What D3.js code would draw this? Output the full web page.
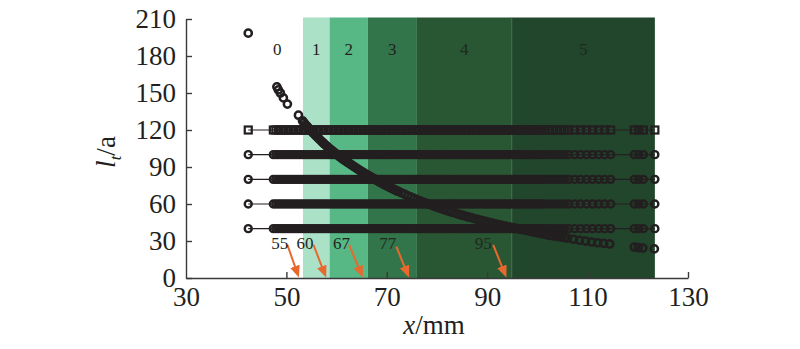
<!DOCTYPE html>
<html><head><meta charset="utf-8">
<script src="https://cdn.jsdelivr.net/npm/d3@7"></script>
<style>body{margin:0;background:#fff}svg{display:block}text{font-family:"Liberation Serif","Times New Roman",serif}</style>
</head><body>
<svg id="chart" width="800" height="349"></svg>
<script>
// ---------- data ----------
const xTicks = [30, 50, 70, 90, 110, 130];
const yTicks = [0, 30, 60, 90, 120, 150, 180, 210];

// zone boundaries along x (mm) and zone labels
const zoneEdges = [43.1, 53.3, 58.6, 66.2, 76.0, 94.9, 123.4];
const zoneLabels = ["0", "1", "2", "3", "4", "5"];

// annotated boundary values
const arrowLabels = ["55", "60", "67", "77", "95"];
const arrowLabelX = [48.7, 53.7, 61.0, 70.2, 89.2];
const arrowFromX = [50.2, 55.4, 62.5, 71.9, 91.2];
const arrowToX = [52.3, 57.7, 65.0, 74.2, 93.6];
const arrowFromY = [26.8, 26.8, 26.8, 25.4, 26.8];

// horizontal series (constant l_t levels)
const rowLevels = [120, 100, 80, 60, 40];
const rowShapes = ["square", "circle", "circle", "circle", "circle"];
const rowX = [42.4,
  47.4, 47.9, 48.4, 48.9, 49.4, 49.9, 50.4, 50.9, 51.4, 51.9, 52.4, 52.9, 53.4, 53.9, 54.4, 54.9,
  55.4, 55.9, 56.4, 56.9, 57.4, 57.9, 58.4, 58.9, 59.4, 59.9, 60.4, 60.9, 61.4, 61.9, 62.4, 62.9,
  63.4, 63.9, 64.4, 64.9, 65.4, 65.9, 66.4, 66.9, 67.4, 67.9, 68.4, 68.9, 69.4, 69.9, 70.4, 70.9,
  71.4, 71.9, 72.4, 72.9, 73.4, 73.9, 74.4, 74.9, 75.4, 75.9, 76.4, 76.9, 77.4, 77.9, 78.4, 78.9,
  79.4, 79.9, 80.4, 80.9, 81.4, 81.9, 82.4, 82.9, 83.4, 83.9, 84.4, 84.9, 85.4, 85.9, 86.4, 86.9,
  87.4, 87.9, 88.4, 88.9, 89.4, 89.9, 90.4, 90.9, 91.4, 91.9, 92.4, 92.9, 93.4, 93.9, 94.4, 94.9,
  95.4, 95.9, 96.4, 96.9, 97.4, 97.9, 98.4, 98.9, 99.4, 99.9, 100.4, 100.9, 101.4,
  102.2, 103.0, 103.8, 104.6, 105.4, 106.2, 107.4, 108.6, 109.8, 111.0, 112.2, 113.4, 114.6,
  119.3, 120.2, 121.1, 123.4];

// decreasing series
const curveX = [42.4, 48.1, 48.4, 48.8, 49.4, 50.2, 52.4,
  53.2, 53.5, 53.8, 54.1, 54.4, 54.7, 55.0, 55.3, 55.6, 55.9, 56.2, 56.5, 56.8, 57.1, 57.4, 57.7,
  58.0, 58.3, 58.6, 58.9, 59.2, 59.5, 59.8, 60.1, 60.4, 60.7, 61.0, 61.3, 61.6, 61.9, 62.2, 62.5,
  62.8, 63.1, 63.4, 63.7, 64.0, 64.3, 64.6, 64.9, 65.2, 65.5, 65.8, 66.1, 66.4, 66.7, 67.0, 67.3,
  67.6, 67.9, 68.2, 68.5, 68.8, 69.1, 69.4, 69.7, 70.0, 70.3, 70.6, 70.9, 71.2, 71.5, 71.8, 72.1,
  72.4, 73.0, 73.6, 74.2, 74.8, 75.4, 76.0, 76.6, 77.2, 77.8, 78.4, 79.0, 79.6, 80.2, 80.8, 81.4,
  82.0, 82.6, 83.2, 83.8, 84.4, 85.0, 85.6, 86.2, 86.8, 87.4, 88.0, 88.6, 89.2, 89.8, 90.4, 91.0,
  91.6, 92.2, 92.8, 93.4, 94.0, 94.6, 95.2, 95.8, 96.4, 97.0, 97.6, 98.2, 98.8, 99.4, 100.0, 100.6,
  101.2, 101.8, 102.4, 103.0, 103.6, 104.2, 104.8, 105.4, 106.0,
  107.2, 108.4, 109.6, 110.8, 112.0, 113.2, 114.4, 119.3, 120.1, 121.0, 123.3];
const curveL = [198.5, 155, 152.5, 150, 146, 141, 132,
  127.5, 126.0, 124.4, 123.0, 121.6, 120.3, 119.0, 117.7, 116.5, 115.2, 114.0, 112.8, 111.6, 110.4, 109.3, 108.1,
  107.0, 105.9, 104.9, 103.9, 102.9, 101.9, 101.0, 100.0, 99.1, 98.1, 97.2, 96.3, 95.5, 94.6, 93.8, 92.9,
  92.1, 91.3, 90.5, 89.7, 88.9, 88.1, 87.3, 86.5, 85.8, 85.0, 84.3, 83.6, 82.9, 82.2, 81.5, 80.8,
  80.1, 79.4, 78.7, 78.0, 77.4, 76.7, 76.0, 75.4, 74.8, 74.1, 73.5, 72.9, 72.3, 71.7, 71.1, 70.5,
  70.0, 68.9, 67.8, 66.7, 65.6, 64.6, 63.6, 62.6, 61.6, 60.7, 59.8, 58.9, 58.0, 57.2, 56.3, 55.5,
  54.7, 53.9, 53.1, 52.4, 51.6, 50.9, 50.2, 49.5, 48.9, 48.2, 47.6, 47.0, 46.3, 45.7, 45.1, 44.5,
  43.9, 43.3, 42.8, 42.3, 41.7, 41.2, 40.7, 40.2, 39.7, 39.2, 38.7, 38.2, 37.7, 37.2, 36.7, 36.2,
  35.7, 35.2, 34.7, 34.3, 33.9, 33.5, 33.1, 32.7, 32.3,
  31.4, 30.6, 29.9, 29.2, 28.6, 28.1, 27.6, 25.1, 24.7, 24.3, 23.6];

// ---------- styles ----------
const zoneColors = ["none", "#abe1c6", "#57b885", "#33754b", "#295633", "#22462b"];
const ink = "#231f20";
const orange = "#e8692f";

// ---------- drawing ----------
const svg = d3.select("#chart");
const x = d3.scaleLinear().domain([30, 130]).range([186, 688]);
const y = d3.scaleLinear().domain([0, 210]).range([278, 19]);

// zones
const zones = zoneLabels.map((lab, i) => ({lab, x0: zoneEdges[i], x1: zoneEdges[i + 1], c: zoneColors[i]}));
svg.append("g").selectAll("rect").data(zones.filter(z => z.c !== "none")).join("rect")
  .attr("x", d => x(d.x0)).attr("width", d => x(d.x1) - x(d.x0))
  .attr("y", y(210) - 1.5).attr("height", y(0) - y(210) + 1.5)
  .attr("fill", d => d.c);
svg.append("line").attr("x1", x(zoneEdges[5])).attr("x2", x(zoneEdges[5]))
  .attr("y1", y(210) - 1.5).attr("y2", y(0)).attr("stroke", "#3e6c48").attr("stroke-width", 1);

svg.append("g").selectAll("text").data(zones).join("text")
  .attr("x", d => x((d.x0 + d.x1) / 2)).attr("y", 55)
  .attr("text-anchor", "middle").attr("font-size", 17)
  .attr("fill", (d, i) => i >= 4 ? "#1c2a1f" : ink)
  .text(d => d.lab);

// arrows
const defs = svg.append("defs");
defs.append("marker").attr("id", "ah").attr("viewBox", "0 0 12 10").attr("refX", 9).attr("refY", 5)
  .attr("markerWidth", 6).attr("markerHeight", 5).attr("orient", "auto").attr("markerUnits", "strokeWidth")
  .append("path").attr("d", "M0,0 L12,5 L0,10 z").attr("fill", orange);
const arrows = arrowLabels.map((lab, i) => ({lab, lx: arrowLabelX[i], fx: arrowFromX[i], fy: arrowFromY[i], tx: arrowToX[i]}));
svg.append("g").selectAll("line").data(arrows).join("line")
  .attr("x1", d => x(d.fx)).attr("y1", d => y(d.fy))
  .attr("x2", d => x(d.tx)).attr("y2", y(2.6))
  .attr("stroke", orange).attr("stroke-width", 2).attr("marker-end", "url(#ah)");
svg.append("g").selectAll("text").data(arrows).join("text")
  .attr("x", d => x(d.lx)).attr("y", y(23.5))
  .attr("text-anchor", "middle").attr("font-size", 17)
  .attr("fill", (d, i) => i >= 3 ? "#1f2a22" : ink)
  .text(d => d.lab);

// horizontal series
const line = d3.line().x(d => x(d[0])).y(d => y(d[1]));
rowLevels.forEach((lev, k) => {
  const pts = rowX.map(v => [v, lev]);
  const g = svg.append("g");
  g.append("path").attr("d", line(pts)).attr("fill", "none").attr("stroke", ink).attr("stroke-width", 1.1);
  if (rowShapes[k] === "square") {
    g.selectAll("rect").data(pts).join("rect")
      .attr("x", d => x(d[0]) - 3.5).attr("y", d => y(d[1]) - 3.5)
      .attr("width", 7).attr("height", 7)
      .attr("fill", "none").attr("stroke", ink).attr("stroke-width", 2.2);
  } else {
    g.selectAll("circle").data(pts).join("circle")
      .attr("cx", d => x(d[0])).attr("cy", d => y(d[1])).attr("r", 3.5)
      .attr("fill", "none").attr("stroke", ink).attr("stroke-width", 2.4);
  }
});

// decreasing series
svg.append("g").selectAll("circle").data(curveX.map((v, i) => [v, curveL[i]])).join("circle")
  .attr("cx", d => x(d[0])).attr("cy", d => y(d[1])).attr("r", 3.6)
  .attr("fill", "none").attr("stroke", ink).attr("stroke-width", 2.5);

// axes
const yAxis = svg.append("g").attr("transform", `translate(${x(30)},0)`)
  .call(d3.axisLeft(y).tickValues(yTicks).tickSizeInner(-6).tickSizeOuter(0).tickPadding(10).tickFormat(d3.format("d")));
const xAxis = svg.append("g").attr("transform", `translate(0,${y(0)})`)
  .call(d3.axisBottom(x).tickValues(xTicks).tickSizeInner(-6).tickSizeOuter(0).tickPadding(9).tickFormat(d3.format("d")));
[yAxis, xAxis].forEach(a => {
  a.selectAll("path,line").attr("stroke", "#3a3a3a").attr("stroke-width", 1.4);
  a.selectAll("text").attr("font-size", 27).attr("fill", ink)
    .attr("font-family", "'Liberation Serif','Times New Roman',serif");
});
xAxis.selectAll(".tick").filter(d => d === 30).select("line").remove();

// axis titles
const xt = svg.append("text").attr("x", 434).attr("y", 334).attr("text-anchor", "middle")
  .attr("font-size", 27).attr("fill", ink);
xt.append("tspan").attr("font-style", "italic").text("x");
xt.append("tspan").text("/mm");

const yt = svg.append("text").attr("transform", "translate(115,152) rotate(-90)")
  .attr("text-anchor", "middle").attr("font-size", 27).attr("fill", ink);
yt.append("tspan").attr("font-style", "italic").text("l");
yt.append("tspan").attr("font-style", "italic").attr("font-size", 17).attr("dy", 6).text("t");
yt.append("tspan").attr("dy", -6).text("/a");
</script>
</body></html>
